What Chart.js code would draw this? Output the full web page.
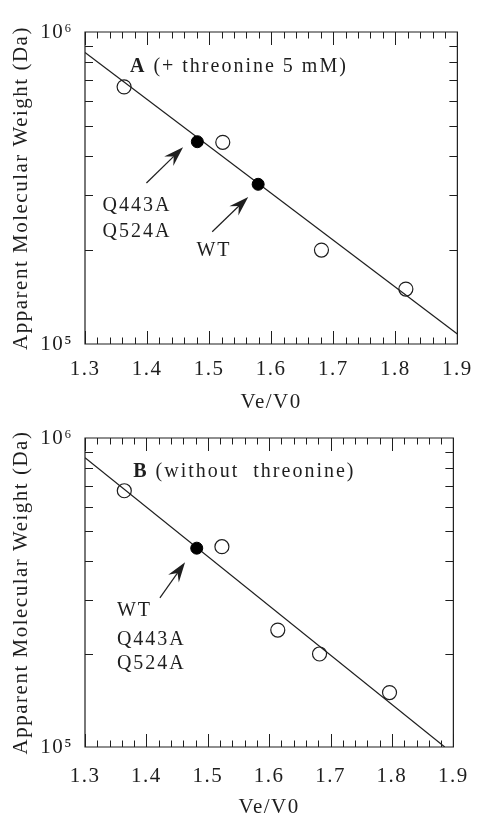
<!DOCTYPE html>
<html><head><meta charset="utf-8">
<script src="https://cdn.jsdelivr.net/npm/chart.js@4.4.1/dist/chart.umd.min.js"></script>
<style>
html,body{margin:0;padding:0;background:#fff;}
body{width:485px;height:818px;overflow:hidden;position:relative;}
canvas{position:absolute;left:0;display:block;}
</style></head><body>
<canvas id="c1" width="485" height="413" style="top:0"></canvas>
<canvas id="c2" width="485" height="405" style="top:413px"></canvas>
<script>
// ---------- Panel A (+ threonine 5 mM) ----------
const openA_x   = [1.363, 1.522, 1.681, 1.817];
const openA_y   = [6.67e5, 4.43e5, 2.00e5, 1.50e5];
const filledA_x = [1.481, 1.579];
const filledA_y = [4.45e5, 3.25e5];
const fitA_x    = [1.3, 1.9];
const fitA_y    = [8.60e5, 1.077e5];

// ---------- Panel B (without threonine) ----------
const openB_x   = [1.364, 1.523, 1.614, 1.682, 1.796];
const openB_y   = [6.75e5, 4.45e5, 2.39e5, 2.00e5, 1.50e5];
const filledB_x = [1.482];
const filledB_y = [4.40e5];
const fitB_x    = [1.3, 1.886];
const fitB_y    = [8.63e5, 1.00e5];

// ---------- Axes ----------
const xTickValues = [1.3, 1.4, 1.5, 1.6, 1.7, 1.8, 1.9];
const yTickValues = [1e5, 1e6];
const yTickLabels = ['10\u2075', '10\u2076'];
const xTitle = 'Ve/V0';
const yTitle = 'Apparent Molecular Weight (Da)';

// ---------- Annotations (data coordinates) ----------
const annotA = {
  texts: [
    {x: 1.3724, y: 7.74e5, parts: [{t: 'A', bold: true}, {t: ' (+ threonine 5 mM)'}]},
    {x: 1.3283, y: 2.77e5, parts: [{t: 'Q443A'}]},
    {x: 1.3283, y: 2.29e5, parts: [{t: 'Q524A'}]},
    {x: 1.4795, y: 1.99e5, parts: [{t: 'WT'}]}
  ],
  arrows: [
    {from: [1.399, 3.28e5], to: [1.458, 4.27e5]},
    {from: [1.505, 2.29e5], to: [1.563, 2.96e5]}
  ]
};
const annotB = {
  texts: [
    {x: 1.3785, y: 7.76e5, parts: [{t: 'B', bold: true}, {t: ' (without  threonine)'}]},
    {x: 1.352, y: 2.76e5, parts: [{t: 'WT'}]},
    {x: 1.352, y: 2.22e5, parts: [{t: 'Q443A'}]},
    {x: 1.352, y: 1.86e5, parts: [{t: 'Q524A'}]}
  ],
  arrows: [
    {from: [1.422, 3.04e5], to: [1.463, 3.96e5]}
  ]
};

const INK = '#1e1e1e';
const FONT = '"Liberation Serif"';
const toPts = (xs, ys) => xs.map((x, i) => ({x: x, y: ys[i]}));

const spacingPlugin = {
  id: 'spacing',
  beforeDraw(chart) { chart.ctx.letterSpacing = '1.5px'; }
};

const framePlugin = {
  id: 'frameTicks',
  afterDatasetsDraw(chart, args, opts) {
    const {ctx, chartArea: a, scales: {x, y}} = chart;
    ctx.save();
    ctx.strokeStyle = INK;
    ctx.lineWidth = 1.2;
    ctx.beginPath();
    ctx.rect(a.left, a.top, a.right - a.left, a.bottom - a.top);
    ctx.stroke();
    ctx.lineWidth = 1;
    ctx.beginPath();
    for (let i = 0; i <= 30; i++) {
      const v = 1.3 + i * 0.02;
      const px = Math.round(x.getPixelForValue(v)) + 0.5;
      const len = (i % 5 === 0) ? 13 : 6.5;
      ctx.moveTo(px, a.bottom); ctx.lineTo(px, a.bottom - len);
      ctx.moveTo(px, a.top); ctx.lineTo(px, a.top + len);
    }
    for (let k = 2; k <= 9; k++) {
      const py = Math.round(y.getPixelForValue(k * 1e5)) + 0.5;
      ctx.moveTo(a.left, py); ctx.lineTo(a.left + 8, py);
      ctx.moveTo(a.right, py); ctx.lineTo(a.right - 8, py);
    }
    ctx.stroke();

    // arrows
    const an = opts.annot;
    ctx.fillStyle = INK;
    an.arrows.forEach(ar => {
      const x0 = x.getPixelForValue(ar.from[0]), y0 = y.getPixelForValue(ar.from[1]);
      const x1 = x.getPixelForValue(ar.to[0]), y1 = y.getPixelForValue(ar.to[1]);
      const ang = Math.atan2(y1 - y0, x1 - x0);
      const L = 20, W = 6.5, N = 13;
      const c = Math.cos(ang), s = Math.sin(ang);
      ctx.beginPath();
      ctx.moveTo(x0, y0);
      ctx.lineTo(x1 - c * N, y1 - s * N);
      ctx.lineWidth = 1.2;
      ctx.stroke();
      ctx.beginPath();
      ctx.moveTo(x1, y1);
      ctx.lineTo(x1 - c * L - s * W, y1 - s * L + c * W);
      ctx.lineTo(x1 - c * N, y1 - s * N);
      ctx.lineTo(x1 - c * L + s * W, y1 - s * L - c * W);
      ctx.closePath();
      ctx.fill();
    });

    // texts
    ctx.letterSpacing = '2px';
    ctx.textBaseline = 'middle';
    ctx.textAlign = 'left';
    an.texts.forEach(tx => {
      let px = x.getPixelForValue(tx.x);
      const py = y.getPixelForValue(tx.y);
      tx.parts.forEach(p => {
        ctx.font = (p.bold ? 'bold ' : '') + '20px ' + FONT;
        ctx.fillText(p.t, px, py);
        px += ctx.measureText(p.t).width;
      });
    });
    ctx.restore();
  }
};

function makeChart(id, openPts, filledPts, fitPts, annot, geom) {
  return new Chart(document.getElementById(id), {
    type: 'scatter',
    data: {
      datasets: [
        {label: 'fit', data: fitPts, showLine: true, borderColor: INK, borderWidth: 1.2,
         pointRadius: 0, fill: false, tension: 0, order: 3},
        {label: 'open', data: openPts, pointStyle: 'circle', pointRadius: 7,
         pointBackgroundColor: 'rgba(255,255,255,0)', pointBorderColor: INK, pointBorderWidth: 1.2, order: 2},
        {label: 'filled', data: filledPts, pointStyle: 'circle', pointRadius: 6,
         pointBackgroundColor: '#000', pointBorderColor: '#000', pointBorderWidth: 1, order: 1}
      ]
    },
    options: {
      responsive: false,
      animation: false,
      events: [],
      layout: {padding: {top: geom.top, right: geom.right, left: 0, bottom: 0}},
      plugins: {
        legend: {display: false},
        tooltip: {enabled: false},
        frameTicks: {annot: annot}
      },
      scales: {
        x: {
          type: 'linear', min: 1.3, max: 1.9,
          afterBuildTicks: s => { s.ticks = xTickValues.map(v => ({value: v})); },
          afterFit: s => { s.height = geom.xh; },
          grid: {display: false, drawTicks: false},
          border: {display: false},
          ticks: {
            callback: v => Number(v).toFixed(1),
            font: {family: FONT, size: 21, lineHeight: 1},
            color: INK, padding: geom.xpad, maxRotation: 0, autoSkip: false
          },
          title: {display: true, text: xTitle, color: INK,
                  font: {family: FONT, size: 21, lineHeight: 1}, padding: {top: 0, bottom: geom.tpad}}
        },
        y: {
          type: 'logarithmic', min: 1e5, max: 1e6,
          afterBuildTicks: s => { s.ticks = yTickValues.map(v => ({value: v})); },
          afterFit: s => { s.width = 85; },
          grid: {display: false, drawTicks: false},
          border: {display: false},
          ticks: {
            callback: v => { const i = yTickValues.indexOf(v); return i >= 0 ? yTickLabels[i] : ''; },
            font: {family: FONT, size: 21, lineHeight: 1},
            color: INK, padding: 12, autoSkip: false
          },
          title: {display: true, text: yTitle, color: INK,
                  font: {family: FONT, size: 21, lineHeight: 1}, padding: {top: 11, bottom: 0}}
        }
      }
    },
    plugins: [spacingPlugin, framePlugin]
  });
}

function build() {
  makeChart('c1', toPts(openA_x, openA_y), toPts(filledA_x, filledA_y), toPts(fitA_x, fitA_y), annotA,
            {top: 32, right: 19, xh: 69, xpad: 14.5, tpad: 0});
  makeChart('c2', toPts(openB_x, openB_y), toPts(filledB_x, filledB_y), toPts(fitB_x, fitB_y), annotB,
            {top: 25, right: 17, xh: 71, xpad: 18.5, tpad: 0});
}
Promise.all([
  document.fonts.load('21px "Liberation Serif"'),
  document.fonts.load('bold 21px "Liberation Serif"')
]).then(build, build);
</script>
</body></html>
